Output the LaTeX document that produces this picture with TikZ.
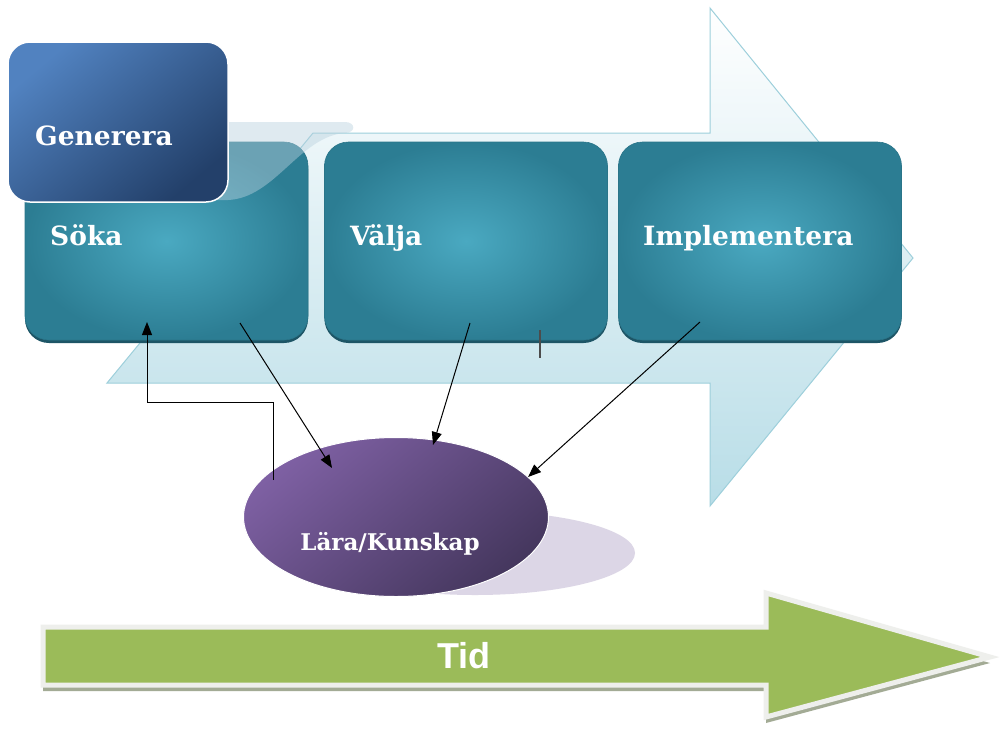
\documentclass[tikz,border=0pt]{standalone}
\usepackage{fontspec}
\setmainfont{DejaVu Serif}
\newfontfamily\tidfont{Liberation Sans}
\usetikzlibrary{arrows.meta,shapes.geometric}
\definecolor{tealin}{HTML}{4AA9C1}
\definecolor{tealout}{HTML}{2C7D93}
\definecolor{tealdark}{HTML}{1D5566}
\definecolor{tealedge}{HTML}{2A7589}
\definecolor{genlight}{HTML}{5182C0}
\definecolor{gendark}{HTML}{23406A}
\definecolor{purlight}{HTML}{7E60A3}
\definecolor{purdark}{HTML}{45375E}
\definecolor{purshadow}{HTML}{DCD6E6}
\definecolor{arrowbot}{HTML}{B8DDE7}
\definecolor{arrowmid}{HTML}{DDEFF3}
\definecolor{arrowline}{HTML}{9DCFDB}
\definecolor{bandcol}{HTML}{B9D1DE}
\definecolor{tidgreen}{HTML}{9BBB59}
\definecolor{tidborder}{HTML}{EEEFEC}
\definecolor{tidshadow}{HTML}{A3AB95}
\begin{document}
\begin{tikzpicture}[x=1pt,y={(0pt,-1pt)},
  tealbox/.style={rounded corners=24pt, inner color=tealin, outer color=tealout,
    draw=tealedge, line width=0.6pt, minimum width=283pt, minimum height=198pt, inner sep=0pt},
  boxshadow/.style={rounded corners=24pt, fill=tealdark, minimum width=283pt,
    minimum height=198pt, inner sep=0pt},
  lbl/.style={text=white, font=\bfseries\fontsize{26.5}{30}\selectfont, anchor=base west, inner sep=0pt},
  conn/.style={draw=black, line width=1pt, -{Triangle[length=13pt,width=10pt]}}
]
\useasboundingbox (0,0) rectangle (1008,731);
\fill[white] (0,0) rectangle (1008,731);

% big background arrow
\path[top color=white, middle color=arrowmid, bottom color=arrowbot, draw=arrowline, line width=1pt, line join=miter]
  (107,383) -- (313,133) -- (710,133) -- (710,8) -- (913,258) -- (710,506) -- (710,383) -- cycle;

% process boxes
\node[boxshadow] (soka-sh) at (166.5,244) {};
\node[tealbox] (soka) at (166.5,241) {};
\node[boxshadow] (valja-sh) at (466,244) {};
\node[tealbox] (valja) at (466,241) {};
\node[boxshadow] (impl-sh) at (760,244) {};
\node[tealbox] (impl) at (760,241) {};

% soft shadow of Generera
\fill[bandcol, opacity=0.45]
  (150,122) -- (345,122) .. controls (356,122) and (356,133) .. (345,133)
  .. controls (300,136) and (275,198) .. (228,200) -- (150,200) -- cycle;

% Generera box
\node[draw=white, line width=1.5pt, rounded corners=22pt, top color=genlight, bottom color=gendark,
  shading angle=40, minimum width=220pt, minimum height=160pt, inner sep=0pt] (gen) at (118,122) {};

% labels
\node[lbl] (gen-t) at (35,145) {Generera};
\node[lbl] (soka-t) at (50,245) {Söka};
\node[lbl] (valja-t) at (350,245) {Välja};
\node[lbl] (impl-t) at (643,245) {Implementera};

% Lära/Kunskap
\node[ellipse, fill=purshadow, minimum width=320pt, minimum height=84pt, inner sep=0pt] (lk-sh) at (475,553) {};
\node[ellipse, draw=white, line width=1pt, top color=purlight, bottom color=purdark, shading angle=40,
  minimum width=305pt, minimum height=159pt, inner sep=0pt] (lk) at (396,517) {};
\node[lbl, anchor=base, font=\bfseries\fontsize{23}{27}\selectfont] (lk-t) at (390,550) {Lära/Kunskap};

% connectors
\coordinate (a1s) at (240,323); \coordinate (a1e) at (332,468);
\coordinate (a2s) at (470,323); \coordinate (a2e) at (433,445);
\coordinate (a3s) at (700,322); \coordinate (a3e) at (528,477);
\coordinate (fbs) at (273,480); \coordinate (fbe) at (147,322);
\draw[conn] (a1s) -- (a1e);
\draw[conn] (a2s) -- (a2e);
\draw[conn] (a3s) -- (a3e);
\draw[conn] (fbs) -- ++(0,-78) -| (fbe);

% small tick
\coordinate (tk1) at (540,330); \coordinate (tk2) at (540,358);
\draw[line width=1.5pt, draw=black!70] (tk1) -- (tk2);

% Tid arrow
\fill[tidshadow] (43,633) -- (766,633) -- (766,599) -- (990,663) -- (766,723) -- (766,691) -- (43,691) -- cycle;
\draw[draw=tidborder, line width=5pt, fill=tidgreen, line join=miter]
  (43,627) -- (766,627) -- (766,593) -- (990,657) -- (766,717) -- (766,685) -- (43,685) -- cycle;
\node[text=white, font=\tidfont\bfseries\fontsize{36}{40}\selectfont, anchor=base, inner sep=0pt] (tid) at (464,668) {Tid};
\end{tikzpicture}
\end{document}
